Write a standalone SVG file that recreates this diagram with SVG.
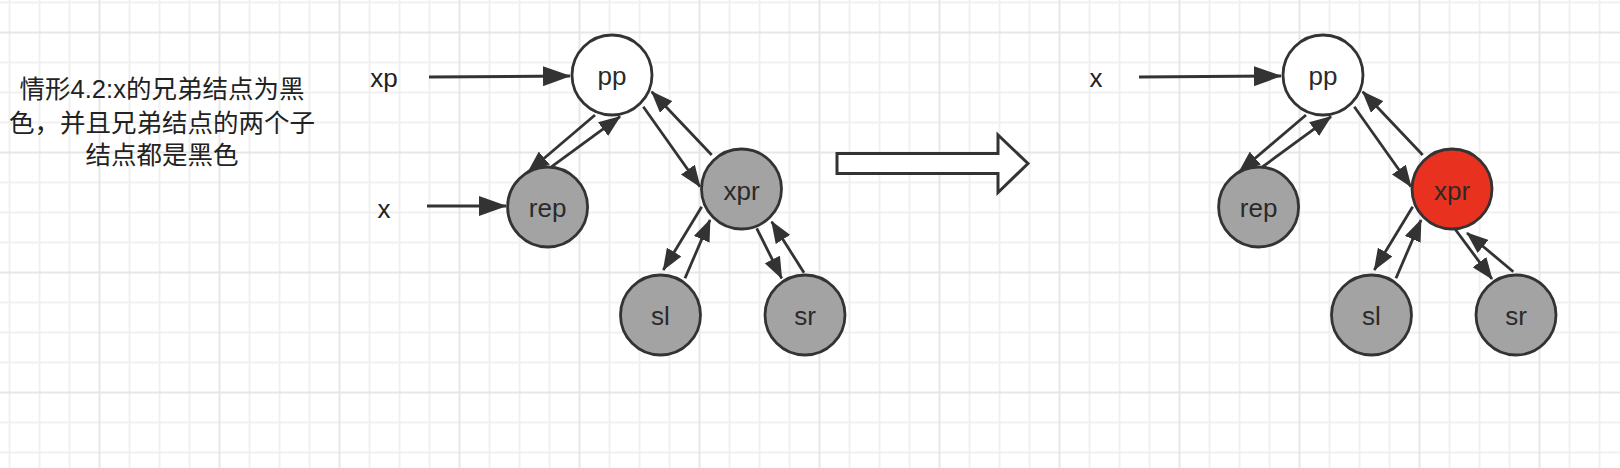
<svg xmlns="http://www.w3.org/2000/svg" width="1620" height="468" viewBox="0 0 1620 468">
  <style>
    .node { stroke: #333333; stroke-width: 2.8; }
    .white { fill: #ffffff; }
    .gray { fill: #a3a3a3; }
    .red { fill: #e8321f; }
    .ntext { font-family: "Liberation Sans", Arial, sans-serif; font-size: 26px; fill: #2a2a2a; text-anchor: middle; }
    .label { font-family: "Liberation Sans", Arial, sans-serif; font-size: 26px; fill: #222222; text-anchor: middle; }
    .cjk { font-family: "Liberation Sans", "Noto Sans CJK SC", sans-serif; font-size: 25.5px; fill: #222222; text-anchor: middle; }
    .edge { fill: none; stroke: #333333; stroke-width: 2.8; marker-end: url(#headS); }
    .ptr { fill: none; stroke: #333333; stroke-width: 3; marker-end: url(#headL); }
  </style>
  <defs>
    <pattern id="grid" patternUnits="userSpaceOnUse" x="98.5" y="31.5" width="120" height="120">
      <path d="M31 0V120M61 0V120M91 0V120M0 31H120M0 61H120M0 91H120" stroke="#f0f0f0" stroke-width="2" fill="none"/>
      <path d="M1 0V120M0 1H120" stroke="#e6e6e6" stroke-width="2" fill="none"/>
    </pattern>
    <marker id="headS" markerUnits="userSpaceOnUse" markerWidth="22" markerHeight="17" refX="21" refY="8.5" orient="auto">
      <path d="M0,0 L22,8.5 L0,17 Z" fill="#333333"/>
    </marker>
    <marker id="headL" markerUnits="userSpaceOnUse" markerWidth="28" markerHeight="20" refX="27" refY="10" orient="auto">
      <path d="M0,0 L28,10 L0,20 Z" fill="#333333"/>
    </marker>
  </defs>
  <rect width="1620" height="468" fill="#ffffff"/>
  <rect width="1620" height="468" fill="url(#grid)"/>

  <g id="caption">
    <text class="cjk" x="162" y="97.7">情形4.2:x的兄弟结点为黑</text>
    <text class="cjk" x="162" y="131.9">色，并且兄弟结点的两个子</text>
    <text class="cjk" x="162" y="164.4">结点都是黑色</text>
  </g>

  <g id="connectors">
    <path class="ptr" d="M429,77 L570,76"/>
    <path class="ptr" d="M427,206 L506,206"/>
    <path class="edge" d="M595,115 L528.3,171.7"/>
    <path class="edge" d="M551.7,166.7 L620,116.7"/>
    <path class="edge" d="M643.3,106.7 L700,186.7"/>
    <path class="edge" d="M711.7,155 L651.7,91.7"/>
    <path class="edge" d="M701.7,206.7 L663.3,270"/>
    <path class="edge" d="M685,278.3 L710,220"/>
    <path class="edge" d="M756.7,228.3 L781.7,278.3"/>
    <path class="edge" d="M804,272.7 L771.7,221.7"/>

    <path class="ptr" d="M1139,77 L1281,76"/>
    <path class="edge" d="M1306,115 L1239.3,171.7"/>
    <path class="edge" d="M1262.7,166.7 L1331,116.7"/>
    <path class="edge" d="M1354.3,106.7 L1411,186.7"/>
    <path class="edge" d="M1422.7,155 L1362.7,91.7"/>
    <path class="edge" d="M1412.7,206.7 L1374.3,270"/>
    <path class="edge" d="M1396,278.3 L1421,220"/>
    <path class="edge" d="M1455,229 L1492,279"/>
    <path class="edge" d="M1513.3,271.7 L1467,233"/>
  </g>

  <g id="label-xp"><text class="label" x="384" y="86.5">xp</text></g>
  <g id="label-x"><text class="label" x="384" y="217.5">x</text></g>
  <g id="label-x2"><text class="label" x="1096" y="86.5">x</text></g>

  <g id="node-pp"><circle class="node white" cx="612" cy="75" r="40"/><text class="ntext" x="612" y="85">pp</text></g>
  <g id="node-rep"><circle class="node gray" cx="547.6" cy="207" r="40"/><text class="ntext" x="547.6" y="217">rep</text></g>
  <g id="node-xpr"><circle class="node gray" cx="741.5" cy="189" r="40"/><text class="ntext" x="741.5" y="199.5">xpr</text></g>
  <g id="node-sl"><circle class="node gray" cx="660.5" cy="315" r="40"/><text class="ntext" x="660.5" y="325">sl</text></g>
  <g id="node-sr"><circle class="node gray" cx="805" cy="315" r="40"/><text class="ntext" x="805" y="325">sr</text></g>

  <g id="transition-arrow">
    <path d="M837,153.5 L998,153.5 L998,135 L1028,163.5 L998,192.5 L998,173.5 L837,173.5 Z" fill="#ffffff" stroke="#333333" stroke-width="3" stroke-linejoin="miter"/>
  </g>

  <g id="node-pp2"><circle class="node white" cx="1323" cy="75" r="40"/><text class="ntext" x="1323" y="85">pp</text></g>
  <g id="node-rep2"><circle class="node gray" cx="1258.6" cy="207" r="40"/><text class="ntext" x="1258.6" y="217">rep</text></g>
  <g id="node-xpr2"><circle class="node red" cx="1452" cy="189" r="40"/><text class="ntext" x="1452" y="199.5">xpr</text></g>
  <g id="node-sl2"><circle class="node gray" cx="1371.5" cy="315" r="40"/><text class="ntext" x="1371.5" y="325">sl</text></g>
  <g id="node-sr2"><circle class="node gray" cx="1516" cy="315" r="40"/><text class="ntext" x="1516" y="325">sr</text></g>
</svg>
